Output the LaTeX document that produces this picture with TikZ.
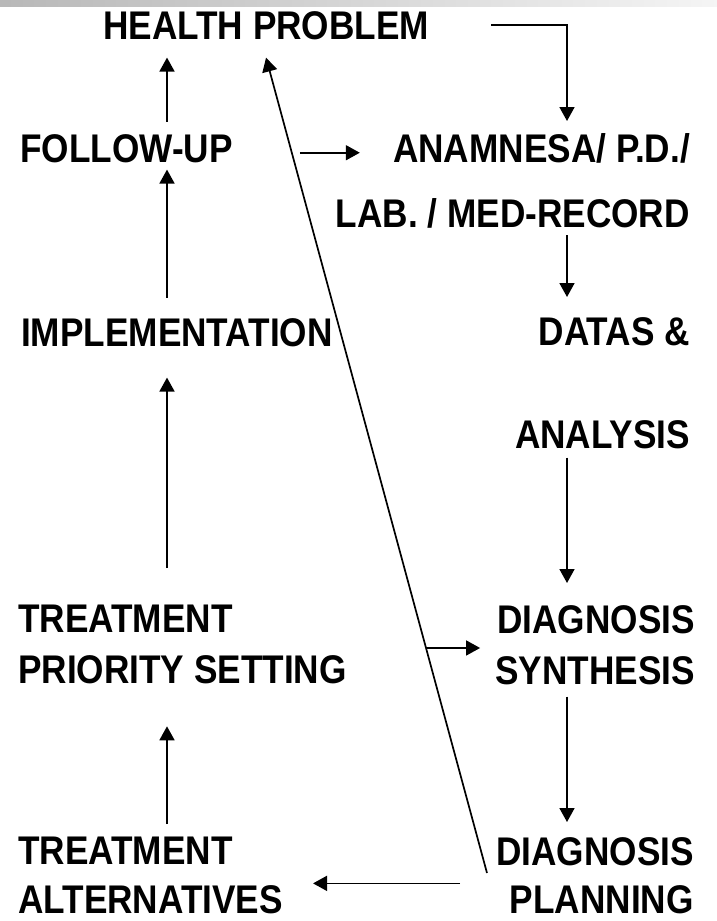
\documentclass[tikz,border=0pt]{standalone}
\usepackage{fontspec}
\setmainfont[FakeStretch=0.88]{Liberation Sans}
\usetikzlibrary{arrows.meta}

\begin{document}
\begin{tikzpicture}[
  x=1pt, y=-1pt,
  label/.style={inner sep=0pt, font=\bfseries\fontsize{40}{48}\selectfont},
  arr/.style={line width=1.7pt, -{Triangle[length=14pt,width=15pt]}},
  link/.style={line width=1.7pt}
]
\useasboundingbox (0,0) rectangle (717,921);

% --- top band ---
\shade[left color=black!28, right color=black!4] (0,0) rectangle (717,6);

% --- columns ---
\coordinate (lcol) at (167,0);
\coordinate (rcol) at (567,0);

% --- top ---
\node[label, anchor=base west] (health) at (103,39) {HEALTH PROBLEM};

% --- right column ---
\node[label, anchor=north east, align=right] (anam) at (690,133) {ANAMNESA/ P.D./\\[17pt]LAB. / MED-RECORD};
\node[label, anchor=north east, align=right] (datas) at (690,317) {DATAS \&\\[55pt]ANALYSIS};
\node[label, anchor=north east, align=right] (diag) at (695,605) {DIAGNOSIS\\[3pt]SYNTHESIS};
\node[label, anchor=north east, align=right] (plan) at (694,837) {DIAGNOSIS\\PLANNING};

% --- left column ---
\node[label, anchor=base west] (follow) at (20,162) {FOLLOW-UP};
\node[label, anchor=base west] (impl) at (21,346) {IMPLEMENTATION};
\node[label, anchor=north west, align=left] (tp) at (18,605) {TREATMENT\\[3pt]PRIORITY SETTING};
\node[label, anchor=north west, align=left] (ta) at (18,837) {TREATMENT\\[1pt]ALTERNATIVES};

% --- edges: right column ---
\draw[arr, shorten >=12pt] ([xshift=62pt]health.east) -| (anam.north -| rcol);
\draw[arr, shorten <=7pt, shorten >=20pt] (anam.south -| rcol) -- (datas.north -| rcol);
\draw[arr, shorten <=9pt, shorten >=22pt] (datas.south -| rcol) -- (diag.north -| rcol);
\draw[arr, shorten <=12pt, shorten >=15pt] (diag.south -| rcol) -- (plan.north -| rcol);
\draw[arr, shorten <=36pt, shorten >=30pt] ([yshift=-8pt]plan.west) -- ([yshift=-8pt]plan.west -| ta.east);

% --- edges: left column ---
\draw[arr, shorten <=13pt, shorten >=42pt] (ta.north -| lcol) -- (tp.south -| lcol);
\draw[arr, shorten <=37pt, shorten >=31pt] (tp.north -| lcol) -- (impl.south -| lcol);
\draw[arr, shorten <=20pt, shorten >=7pt] (impl.north -| lcol) -- (follow.south -| lcol);
\draw[arr, shorten <=12pt, shorten >=18pt] (follow.north -| lcol) -- (health.south -| lcol);

% --- diagonal and side arrows ---
\coordinate (dfoot) at (487,873);
\draw[arr, shorten >=18.7pt] (dfoot) -- ([xshift=-5pt]health.south) coordinate[pos=0.27] (dmid);
\draw[arr, shorten >=15pt] (dmid) -- (dmid -| diag.west);
\draw[arr] ([yshift=-4.5pt]follow.east) ++(67,0) -- ++(60,0);

\end{tikzpicture}
\end{document}
